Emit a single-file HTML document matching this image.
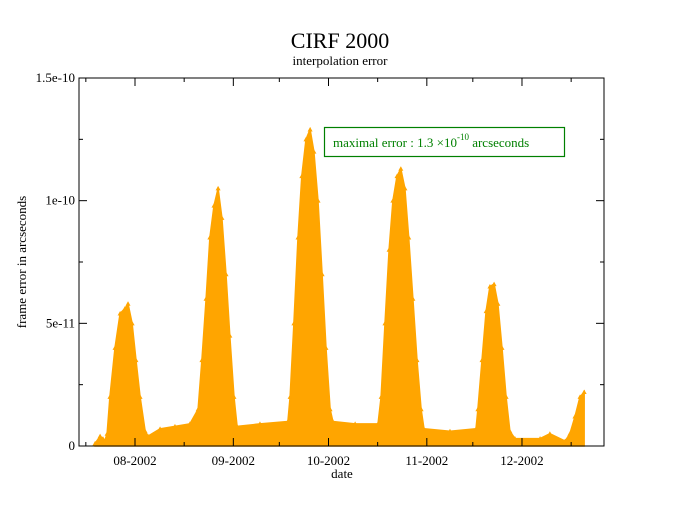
<!DOCTYPE html>
<html><head><meta charset="utf-8"><style>
body{margin:0;background:#fff}
svg{display:block;font-family:"Liberation Serif",serif}
</style></head><body>
<svg id="chart" width="678" height="525" viewBox="0 0 678 525">
<text x="340" y="48" font-size="22" text-anchor="middle">CIRF 2000</text>
<text x="340" y="65" font-size="13" text-anchor="middle">interpolation error</text>
<g id="plot"></g>
<rect x="79" y="78" width="525" height="368" fill="none" stroke="#000" stroke-width="1"/>
<text x="342" y="478" font-size="13" text-anchor="middle">date</text>
<text transform="translate(26,262) rotate(-90)" font-size="13" text-anchor="middle">frame error in arcseconds</text>
<g>
<rect x="324.5" y="127.5" width="240" height="29" fill="#fff" stroke="#008000" stroke-width="1.2"/>
<text x="333" y="147" font-size="13" fill="#008000">maximal error : 1.3 ×10<tspan dy="-7" font-size="9">-10</tspan><tspan dy="7"> arcseconds</tspan></text>
</g>
</svg>
<script>
// day offsets from 2002-08-01, error values in units of 1e-11 arcseconds
const dayOffsets=[-12.6,-11,-10.1,-9.8,-8.8,-7.9,-6.3,-4.7,-3.2,-2.2,-0.9,0.3,1.6,3.2,4.1,7.9,12.6,17.3,19.9,21.1,22.4,23.6,24.9,26.2,27.4,28.7,29.9,31.2,32.2,39.4,48.2,48.9,50.1,51.4,52.6,53.9,55.2,56.4,57.7,59.0,60.2,61.5,62.4,69.4,76.6,77.6,78.8,80.1,81.3,82.6,83.8,85.1,86.3,87.6,88.9,90.2,91.1,99.3,107.5,108.1,109.4,110.7,111.9,113.2,114.4,115.7,117.0,118.2,119.8,127.7,130.8,135.6,137.1,138.7,140.3,141.6];
const errorValues=[0.1,0.4,0.3,0.1,0.5,2,4,5.4,5.6,5.8,5,3.5,2,0.6,0.4,0.7,0.8,0.9,1.5,3.5,6,8.5,9.8,10.5,9.3,7,4.5,2,0.8,0.9,1.0,2,5,8.5,11,12.5,12.9,12,10,7,4,1.5,1,0.9,0.9,2,5,8,10,11,11.3,10.5,8.5,6,3.5,1.5,0.7,0.6,0.7,1.5,3.5,5.5,6.5,6.6,5.8,4,2,0.6,0.3,0.3,0.5,0.2,0.5,1.2,2,2.2];
const xTickLabels=["08-2002","09-2002","10-2002","11-2002","12-2002"];
const xTickDays=[0,31,61,92,122];
const yTickLabels=["0","5e-11","1e-10","1.5e-10"];
const yTickValues=[0,5,10,15];

const NS="http://www.w3.org/2000/svg";
const L=79,R=604,T=78,B=446;
const xS=d=>135+d*3.172;
const yS=v=>B-v*(B-T)/15;
const svg=document.getElementById('chart');
const plot=document.getElementById('plot');
function mk(t,a,p){const e=document.createElementNS(NS,t);for(const k in a)e.setAttribute(k,a[k]);(p||svg).appendChild(e);return e;}

// area
let d="M"+xS(dayOffsets[0])+","+B;
for(let i=0;i<dayOffsets.length;i++)d+=" L"+xS(dayOffsets[i]).toFixed(1)+","+yS(errorValues[i]).toFixed(1);
d+=" L"+xS(dayOffsets[dayOffsets.length-1])+","+B+" Z";
const area=mk('path',{d:d,fill:'#ffa500',stroke:'#ffa500','stroke-width':1.5},plot);


// markers on envelope
for(let i=0;i<dayOffsets.length;i++){
  const x=xS(dayOffsets[i]),y=yS(errorValues[i]);
  const m=mk('path',{d:`M${x-2.5},${y+2} L${x+2.5},${y+2} L${x},${y-2.5} Z`,fill:'#ffa500'},plot);
  
  
}
// x ticks
xTickDays.forEach((dd,i)=>{
  const x=xS(dd);
  mk('line',{x1:x,x2:x,y1:B,y2:B-8,stroke:'#000'});
  mk('line',{x1:x,x2:x,y1:T,y2:T+8,stroke:'#000'});
  const t=mk('text',{x:x,y:B+19,'font-size':13,'text-anchor':'middle'});
  t.textContent=xTickLabels[i];
  
  
  const mx=x-15.5*3.172;
  if(mx>L){mk('line',{x1:mx,x2:mx,y1:B,y2:B-4,stroke:'#000'});mk('line',{x1:mx,x2:mx,y1:T,y2:T+4,stroke:'#000'});}
});
{const mx=xS(137.5);mk('line',{x1:mx,x2:mx,y1:B,y2:B-4,stroke:'#000'});mk('line',{x1:mx,x2:mx,y1:T,y2:T+4,stroke:'#000'});}
// y ticks
yTickValues.forEach((v,i)=>{
  const y=yS(v);
  mk('line',{x1:L,x2:L+8,y1:y,y2:y,stroke:'#000'});
  mk('line',{x1:R,x2:R-8,y1:y,y2:y,stroke:'#000'});
  const t=mk('text',{x:L-4,y:y+4,'font-size':13,'text-anchor':'end'});
  t.textContent=yTickLabels[i];
  
  
  if(i<yTickValues.length-1){const ym=yS(v+2.5);mk('line',{x1:L,x2:L+4,y1:ym,y2:ym,stroke:'#000'});mk('line',{x1:R,x2:R-4,y1:ym,y2:ym,stroke:'#000'});}
});
</script>
</body></html>
